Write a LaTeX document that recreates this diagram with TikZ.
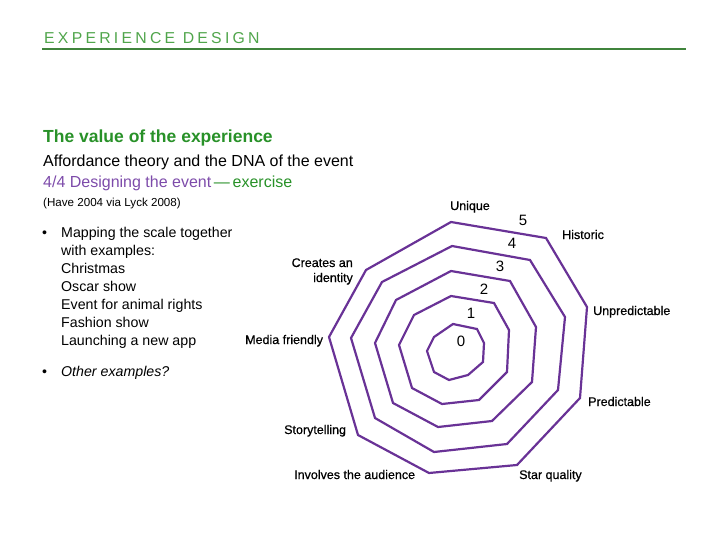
\documentclass[tikz,border=0pt]{standalone}
\usepackage{fontspec}
\setmainfont{Liberation Sans}
\newfontfamily\headfont[LetterSpace=20.5]{Liberation Sans}
\newfontfamily\lblfont[FakeBold=0.6]{Liberation Sans}
\definecolor{hdgreen}{RGB}{80,165,75}
\definecolor{ttgreen}{RGB}{40,145,40}
\definecolor{ppl}{RGB}{105,50,150}
\definecolor{pptext}{RGB}{125,75,170}
\begin{document}
\begin{tikzpicture}[x=1pt,y=-1pt,
  ring/.style={draw=ppl,line width=2.2pt,line join=miter},
  lbl/.style={inner sep=0pt,font=\lblfont\fontsize{12.5}{14}\selectfont},
  num/.style={inner sep=0pt,font=\fontsize{15}{16}\selectfont},
  body/.style={inner sep=0pt,anchor=base west,font=\fontsize{14.2}{17}\selectfont}]
\useasboundingbox (0,0) rectangle (728,546);
% header
\node[inner sep=0pt,anchor=base west,text=hdgreen,font=\headfont\fontsize{15.8}{18}\selectfont] (hd) at (44,43) {EXPERIENCE DESIGN};
\draw[hdgreen!80!black,line width=1.2pt] (42,49) -- (686,49);
% left text
\node[inner sep=0pt,anchor=base west,text=ttgreen,font=\bfseries\fontsize{17.5}{20}\selectfont] (title) at (43,142) {The value of the experience};
\node[inner sep=0pt,anchor=base west,font=\fontsize{16}{19}\selectfont] (sub) at (43,166) {Affordance theory and the DNA of the event};
\node[inner sep=0pt,anchor=base west,font=\fontsize{16}{19}\selectfont] (sub2) at (43,187) {\textcolor{pptext}{4/4 Designing the event}\,\textcolor{ttgreen}{—\,exercise}};
\node[inner sep=0pt,anchor=base west,font=\fontsize{11.6}{14}\selectfont] (cite) at (43,206) {(Have 2004 via Lyck 2008)};
\node[body] (b1) at (42,237) {•};
\node[body] (t1) at (61,237) {Mapping the scale together};
\node[body] (t2) at (61,255) {with examples:};
\node[body] (t3) at (61,273) {Christmas};
\node[body] (t4) at (61,291) {Oscar show};
\node[body] (t5) at (61,309) {Event for animal rights};
\node[body] (t6) at (61,327) {Fashion show};
\node[body] (t7) at (61,345) {Launching a new app};
\node[body] (b2) at (42,376) {•};
\node[body,font=\itshape\fontsize{14.2}{17}\selectfont] (t8) at (61,376) {Other examples?};
% rings
\draw[ring] (451,222) -- (546,238) -- (587,307) -- (580,398) -- (517,465) -- (429,473) -- (358,435) -- (329,337) -- (366,270) -- cycle;
\draw[ring] (452,246) -- (530,260) -- (565,317) -- (558,390) -- (507,444) -- (434,452) -- (375,418) -- (351,338) -- (382,282) -- cycle;
\draw[ring] (451,271) -- (510,281) -- (536,327) -- (532,382) -- (492,421) -- (438,427) -- (393,403) -- (375,343) -- (396,300) -- cycle;
\draw[ring] (451,296) -- (494,303) -- (509,330) -- (507,372) -- (479,400) -- (442,404) -- (412,388) -- (399,345) -- (414,315) -- cycle;
\draw[ring] (453,324) -- (477,329) -- (484,343) -- (483,362) -- (468,375) -- (449,380) -- (434,372) -- (427,351) -- (434,337) -- cycle;
% numbers
\node[num] (n5) at (523,220) {5};
\node[num] (n4) at (512,243) {4};
\node[num] (n3) at (500,266) {3};
\node[num] (n2) at (484,289) {2};
\node[num] (n1) at (471,313) {1};
\node[num] (n0) at (461,341) {0};
% axis labels
\node[lbl,anchor=base] (uniq) at (470,210) {Unique};
\node[lbl,anchor=base west] (hist) at (562,239) {Historic};
\node[lbl,anchor=base west] (unpr) at (593,315) {Unpredictable};
\node[lbl,anchor=base west] (pred) at (588,406) {Predictable};
\node[lbl,anchor=base west] (star) at (519,479) {Star quality};
\node[lbl,anchor=base west] (invo) at (294,479) {Involves the audience};
\node[lbl,anchor=base west] (story) at (284,434) {Storytelling};
\node[lbl,anchor=base west] (media) at (245,344) {Media friendly};
\node[lbl,anchor=base east] (crea1) at (353,267) {Creates an};
\node[lbl,anchor=base east] (crea2) at (353,282) {identity};
\end{tikzpicture}
\end{document}
